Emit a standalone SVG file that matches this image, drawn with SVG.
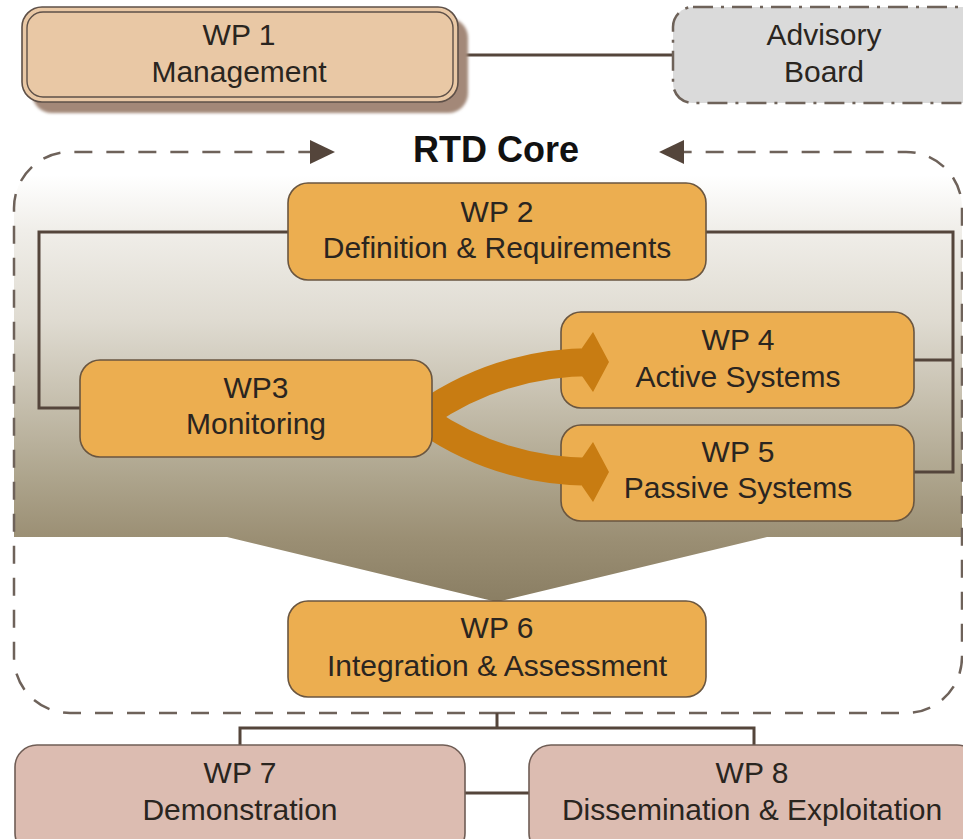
<svg xmlns="http://www.w3.org/2000/svg" width="963" height="839" viewBox="0 0 963 839">
  <defs>
    <style>
      .lbl { font-family: "Liberation Sans", Arial, sans-serif; font-size: 30px; fill: #2a2520; text-anchor: middle; }
      .title { font-family: "Liberation Sans", Arial, sans-serif; font-size: 36px; font-weight: bold; fill: #111111; text-anchor: middle; }
      .wp { fill: #ecae50; stroke: #6a5640; stroke-width: 1.6; }
      .out { fill: #dcbcb1; stroke: #6f5d55; stroke-width: 1.6; }
      .link { fill: none; stroke: #54453b; stroke-width: 3; }
      .frame { fill: none; stroke: #6e625a; stroke-width: 2.5; stroke-dasharray: 18 14; }
      .head { fill: #54453b; }
      .flow { fill: none; stroke: #c87c12; stroke-width: 28; stroke-linecap: butt; }
      .flowhead { fill: #c87c12; }
    </style>
    <linearGradient id="bandFill" gradientUnits="userSpaceOnUse" x1="0" y1="175" x2="0" y2="602">
      <stop offset="0" stop-color="#ffffff"/>
      <stop offset="0.13" stop-color="#f0eee9"/>
      <stop offset="0.34" stop-color="#dfdbd1"/>
      <stop offset="0.55" stop-color="#c3bcaa"/>
      <stop offset="0.71" stop-color="#ada48c"/>
      <stop offset="0.85" stop-color="#9b8f74"/>
      <stop offset="1" stop-color="#8a7e63"/>
    </linearGradient>
    <clipPath id="coreClip">
      <rect x="14" y="152" width="948" height="561" rx="56" ry="56"/>
    </clipPath>
    <filter id="softShadow" x="-5%" y="-10%" width="110%" height="130%">
      <feGaussianBlur stdDeviation="1.5"/>
    </filter>
  </defs>

  <!-- shaded band of the RTD core, narrowing towards WP 6 -->
  <path d="M14,175 L962,175 L962,537 L767,537 L497,602 L227,537 L14,537 Z" fill="url(#bandFill)" clip-path="url(#coreClip)"/>

  <!-- connectors -->
  <g id="connectors">
    <!-- WP 1 to Advisory Board -->
    <line class="link" x1="458" y1="55" x2="673" y2="55"/>
    <!-- RTD core frame with inward arrows -->
    <path class="frame" d="M497,713 L70,713 A56,56 0 0 1 14,657 L14,208 A56,56 0 0 1 70,152 L312,152"/>
    <polygon class="head" points="310,140 335,152 310,164"/>
    <path class="frame" d="M497,713 L906,713 A56,56 0 0 0 962,657 L962,208 A56,56 0 0 0 906,152 L684,152"/>
    <polygon class="head" points="684,140 659,152 684,164"/>
    <!-- WP 2 feedback to WP 3 -->
    <polyline class="link" points="288,232 39,232 39,408 80,408"/>
    <!-- WP 2 feedback to WP 4 and WP 5 -->
    <polyline class="link" points="706,232 953,232 953,472 914,472"/>
    <line class="link" x1="914" y1="360" x2="953" y2="360"/>
    <!-- core to WP 7 and WP 8 -->
    <line class="link" x1="497" y1="713" x2="497" y2="728"/>
    <polyline class="link" points="240,745 240,728 754,728 754,745"/>
    <line class="link" x1="465" y1="793" x2="529" y2="793"/>
  </g>

  <!-- WP 1 -->
  <g id="wp1">
    <rect x="32" y="18" width="436" height="95" rx="20" fill="#a38878" filter="url(#softShadow)"/>
    <rect x="22" y="7" width="436" height="95" rx="20" fill="#e9c8a5" stroke="#5e5048" stroke-width="1.6"/>
    <rect x="27" y="12" width="426" height="85" rx="16" fill="none" stroke="#5e5048" stroke-width="1.4"/>
    <text class="lbl" x="239" y="45">WP 1</text>
    <text class="lbl" x="239" y="82">Management</text>
  </g>

  <!-- Advisory Board -->
  <g id="advisory">
    <rect x="673" y="7" width="310" height="96" rx="20" fill="#dadada" stroke="#6e6259" stroke-width="2.5" stroke-dasharray="20 8 3 8"/>
    <text class="lbl" x="824" y="45">Advisory</text>
    <text class="lbl" x="824" y="82">Board</text>
  </g>

  <!-- RTD Core title -->
  <text class="title" x="496" y="162">RTD Core</text>

  <!-- WP 2 -->
  <g id="wp2">
    <rect class="wp" x="288" y="183" width="418" height="97" rx="20"/>
    <text class="lbl" x="497" y="222">WP 2</text>
    <text class="lbl" x="497" y="258">Definition &amp; Requirements</text>
  </g>

  <!-- WP 4 -->
  <g id="wp4">
    <rect class="wp" x="561" y="312" width="353" height="96" rx="20"/>
    <text class="lbl" x="738" y="350">WP 4</text>
    <text class="lbl" x="738" y="387">Active Systems</text>
  </g>

  <!-- WP 5 -->
  <g id="wp5">
    <rect class="wp" x="561" y="425" width="353" height="96" rx="20"/>
    <text class="lbl" x="738" y="462">WP 5</text>
    <text class="lbl" x="738" y="498">Passive Systems</text>
  </g>

  <!-- broad flow arrows from WP 3 into WP 4 and WP 5 -->
  <g id="flows">
    <path class="flow" d="M425,414 Q500,362 594,362"/>
    <polygon class="flowhead" points="582,348 593,332 609,362 593,392 582,376"/>
    <path class="flow" d="M425,420 Q500,472 594,472"/>
    <polygon class="flowhead" points="582,458 593,442 609,472 593,502 582,486"/>
  </g>

  <!-- WP 3 -->
  <g id="wp3">
    <rect class="wp" x="80" y="360" width="352" height="97" rx="20"/>
    <text class="lbl" x="256" y="398">WP3</text>
    <text class="lbl" x="256" y="434">Monitoring</text>
  </g>

  <!-- WP 6 -->
  <g id="wp6">
    <rect class="wp" x="288" y="601" width="418" height="96" rx="20"/>
    <text class="lbl" x="497" y="638">WP 6</text>
    <text class="lbl" x="497" y="676">Integration &amp; Assessment</text>
  </g>

  <!-- WP 7 -->
  <g id="wp7">
    <rect class="out" x="15" y="745" width="450" height="110" rx="22"/>
    <text class="lbl" x="240" y="783">WP 7</text>
    <text class="lbl" x="240" y="820">Demonstration</text>
  </g>

  <!-- WP 8 -->
  <g id="wp8">
    <rect class="out" x="529" y="745" width="450" height="110" rx="22"/>
    <text class="lbl" x="752" y="783">WP 8</text>
    <text class="lbl" x="752" y="820">Dissemination &amp; Exploitation</text>
  </g>
</svg>
